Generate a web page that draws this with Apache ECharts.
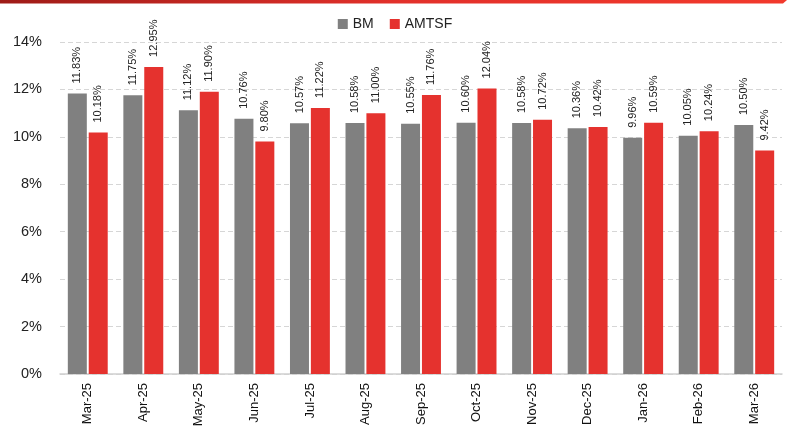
<!DOCTYPE html>
<html>
<head>
<meta charset="utf-8">
<script src="https://cdn.jsdelivr.net/npm/echarts@6/dist/echarts.min.js"></script>
<style>
  html, body { margin: 0; padding: 0; background: #fff; }
  #chart { width: 790px; height: 430px; }
</style>
</head>
<body>
<div id="chart"></div>
<script>
// Monthly yields (%) for the benchmark and the fund
const months = ['Mar-25', 'Apr-25', 'May-25', 'Jun-25', 'Jul-25', 'Aug-25', 'Sep-25',
                'Oct-25', 'Nov-25', 'Dec-25', 'Jan-26', 'Feb-26', 'Mar-26'];
const bmValues = [11.83, 11.75, 11.12, 10.76, 10.57, 10.58, 10.55, 10.60, 10.58, 10.36, 9.96, 10.05, 10.50];
const amtsfValues = [10.18, 12.95, 11.90, 9.80, 11.22, 11.00, 11.76, 12.04, 10.72, 10.42, 10.59, 10.24, 9.42];
const yTicks = [0, 2, 4, 6, 8, 10, 12, 14];

const FONT = 'Liberation Sans';

const chart = echarts.init(document.getElementById('chart'), null, { renderer: 'canvas' });

const valueLabel = {
  show: true,
  position: 'top',
  rotate: 90,
  align: 'left',
  verticalAlign: 'middle',
  distance: 10,
  fontFamily: FONT,
  fontSize: 11,
  color: '#222',
  formatter: p => p.value.toFixed(2) + '%'
};

chart.setOption({
  animation: false,
  textStyle: { fontFamily: FONT },
  graphic: [{
    type: 'polygon',
    shape: { points: [[0, 0], [787, 0], [783, 3.5], [0, 3.5]] },
    style: {
      fill: new echarts.graphic.LinearGradient(0, 0, 1, 0, [
        { offset: 0, color: '#9e1b17' },
        { offset: 0.5, color: '#e2302a' },
        { offset: 1, color: '#f2392c' }
      ])
    },
    silent: true
  }],
  legend: {
    top: 12,
    left: 'center',
    itemWidth: 10,
    itemHeight: 10,
    itemGap: 16,
    icon: 'rect',
    textStyle: { fontFamily: FONT, fontSize: 14, color: '#222' },
    data: ['BM', 'AMTSF']
  },
  grid: { left: 60, right: 8, top: 42, bottom: 56, containLabel: false },
  xAxis: {
    type: 'category',
    data: months,
    axisLine: { show: true, lineStyle: { color: '#d0d0d0', width: 1.5 } },
    axisTick: { show: false },
    axisLabel: {
      rotate: 90,
      margin: 9,
      interval: 0,
      fontFamily: FONT,
      fontSize: 13,
      color: '#111'
    }
  },
  yAxis: {
    type: 'value',
    min: yTicks[0],
    max: yTicks[yTicks.length - 1],
    interval: 2,
    axisLine: { show: false },
    axisTick: { show: false },
    axisLabel: {
      margin: 18,
      fontFamily: FONT,
      fontSize: 14.5,
      color: '#222',
      formatter: v => v + '%'
    },
    splitLine: { lineStyle: { color: '#d6d6d6', type: [5, 3], width: 1 } }
  },
  series: [
    {
      name: 'BM',
      type: 'bar',
      data: bmValues,
      barWidth: 19,
      barGap: '10%',
      itemStyle: { color: '#808080' },
      label: valueLabel
    },
    {
      name: 'AMTSF',
      type: 'bar',
      data: amtsfValues,
      barWidth: 19,
      itemStyle: { color: '#e5322e' },
      label: valueLabel
    }
  ]
});
</script>
</body>
</html>
